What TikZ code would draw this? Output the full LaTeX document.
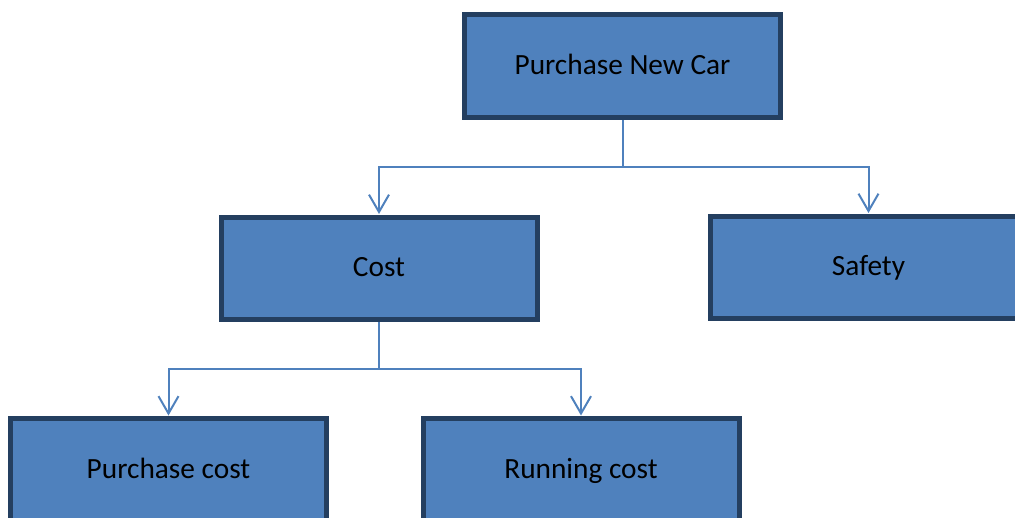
\documentclass[tikz,border=0pt]{standalone}
\usepackage{fontspec}
\setmainfont{Carlito}
\usetikzlibrary{arrows.meta}
\definecolor{boxfill}{HTML}{4F81BD}
\definecolor{boxedge}{HTML}{243F60}
\definecolor{linkcol}{HTML}{4F81BD}
\begin{document}
\begin{tikzpicture}[x=0.75pt,y=-0.75pt,
  box/.style={draw=boxedge, fill=boxfill, line width=3.75pt, minimum width=237pt, minimum height=77pt, inner sep=0pt, text height=15pt, text depth=3pt, font=\fontsize{22}{26}\selectfont, text=black},
  link/.style={draw=linkcol, line width=1.5pt},
  arr/.style={link, -{Straight Barb[length=13pt, width=15pt, line width=1.5pt]}}]
\useasboundingbox (0,0) rectangle (1015,518);
\node[box] (car) at (622.5,66) {Purchase New Car};
\node[box] (cost) at (379,268.5) {Cost};
\node[box] (safety) at (868.5,267.5) {Safety};
\node[box] (pc) at (168.5,470) {Purchase cost};
\node[box] (rc) at (581,470) {Running cost};
\coordinate (j1) at (622.5,166.5);
\coordinate (j2) at (379,368.5);
\draw[link] (car.south) -- (j1);
\draw[arr] (j1) -| ([yshift=0.5pt]cost.north);
\draw[arr] (j1) -| ([yshift=0.5pt]safety.north);
\draw[link] (cost.south) -- (j2);
\draw[arr] (j2) -| ([yshift=0.5pt]pc.north);
\draw[arr] (j2) -| ([yshift=0.5pt]rc.north);
\end{tikzpicture}
\end{document}
